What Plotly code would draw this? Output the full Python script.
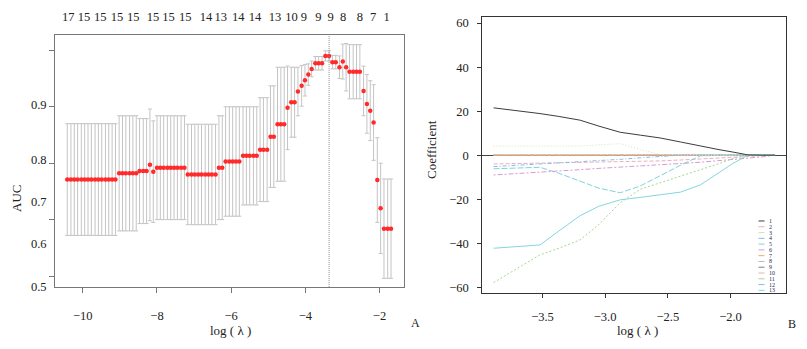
import plotly.graph_objects as go

W, H = 807, 349

# ---------------- Panel A: cross-validated AUC ----------------
log_lambda = [
    -10.42, -10.32, -10.23, -10.14, -10.04, -9.95, -9.86, -9.77, -9.67, -9.58,
    -9.49, -9.39, -9.30, -9.21, -9.12, -9.02, -8.93, -8.84, -8.74, -8.65,
    -8.56, -8.47, -8.37, -8.28, -8.19, -8.10, -8.00, -7.91, -7.82, -7.72,
    -7.63, -7.54, -7.45, -7.35, -7.26, -7.17, -7.07, -6.98, -6.89, -6.80,
    -6.70, -6.61, -6.52, -6.42, -6.33, -6.24, -6.15, -6.05, -5.96, -5.87,
    -5.78, -5.68, -5.59, -5.50, -5.40, -5.31, -5.22, -5.13, -5.03, -4.94,
    -4.85, -4.75, -4.66, -4.57, -4.48, -4.38, -4.29, -4.20, -4.10, -4.01,
    -3.92, -3.83, -3.73, -3.64, -3.55, -3.46, -3.36, -3.27, -3.18, -3.08,
    -2.99, -2.90, -2.81, -2.71, -2.62, -2.53, -2.43, -2.34, -2.25, -2.16,
    -2.06, -1.97, -1.88, -1.78, -1.69,
]
auc_mean = [
    0.671, 0.671, 0.671, 0.671, 0.671, 0.671, 0.671, 0.671, 0.671, 0.671,
    0.671, 0.671, 0.671, 0.671, 0.671, 0.682, 0.682, 0.682, 0.682, 0.682,
    0.682, 0.686, 0.686, 0.686, 0.697, 0.685, 0.692, 0.692, 0.692, 0.692,
    0.692, 0.692, 0.692, 0.692, 0.692, 0.680, 0.680, 0.680, 0.680, 0.680,
    0.680, 0.680, 0.680, 0.680, 0.692, 0.692, 0.703, 0.703, 0.703, 0.703,
    0.703, 0.713, 0.713, 0.713, 0.713, 0.713, 0.724, 0.724, 0.724, 0.747,
    0.747, 0.769, 0.769, 0.769, 0.798, 0.808, 0.808, 0.827, 0.837, 0.847,
    0.857, 0.867, 0.877, 0.877, 0.877, 0.890, 0.890, 0.879, 0.879, 0.870,
    0.880, 0.870, 0.862, 0.862, 0.862, 0.862, 0.828, 0.805, 0.793, 0.772,
    0.670, 0.620, 0.584, 0.584, 0.584,
]
auc_se = [
    0.099, 0.099, 0.099, 0.099, 0.099, 0.099, 0.099, 0.099, 0.099, 0.099,
    0.099, 0.099, 0.099, 0.099, 0.099, 0.102, 0.102, 0.102, 0.102, 0.102,
    0.102, 0.093, 0.093, 0.093, 0.099, 0.090, 0.092, 0.092, 0.092, 0.092,
    0.092, 0.092, 0.092, 0.092, 0.092, 0.089, 0.089, 0.089, 0.089, 0.089,
    0.089, 0.089, 0.089, 0.089, 0.092, 0.092, 0.097, 0.097, 0.097, 0.097,
    0.097, 0.087, 0.087, 0.087, 0.087, 0.087, 0.092, 0.092, 0.092, 0.090,
    0.090, 0.101, 0.101, 0.101, 0.074, 0.062, 0.062, 0.043, 0.036, 0.028,
    0.019, 0.014, 0.012, 0.012, 0.012, 0.009, 0.009, 0.012, 0.012, 0.020,
    0.031, 0.042, 0.048, 0.048, 0.048, 0.048, 0.044, 0.052, 0.053, 0.067,
    0.075, 0.080, 0.088, 0.088, 0.088,
]
best_log_lambda = -3.36

# number of non-zero coefficients (top axis)
top_tick_pos = [-10.39, -9.97, -9.53, -9.08, -8.64, -8.11, -7.69, -7.24, -6.68, -6.28,
                -5.81, -5.36, -4.82, -4.37, -4.04, -3.65, -3.32, -2.98, -2.53, -2.17, -1.81]
top_tick_text = ["17", "15", "15", "15", "15", "15", "15", "15", "14", "13",
                 "14", "14", "13", "10", "9", "9", "9", "8", "8", "7", "1"]

left_x_ticks = [-10, -8, -6, -4, -2]
left_y_ticks = [0.5, 0.6, 0.7, 0.8, 0.9]
left_y_labels = ["0.9", "0.8", "0.7", "0.6", "0.5"]
left_y_label_pos = [0.803, 0.707, 0.631, 0.557, 0.481]

# ---------------- Panel B: coefficient paths ----------------
path_log_lambda = [-3.89, -3.70, -3.52, -3.37, -3.20, -3.05, -2.88, -2.72,
                   -2.56, -2.40, -2.24, -2.10, -1.98, -1.86, -1.75, -1.645]
coef_01 = [21.5, 20.3, 18.9, 17.6, 15.9, 13.2, 10.4, 9.1, 7.8, 6.0, 4.0, 2.6, 1.4, 0.1, 0.0, 0.0]
coef_02 = [-4.0, -3.8, -3.7, -3.6, -3.4, -3.2, -3.1, -2.9, -2.6, -2.2, -1.8, -1.4, -1.0, -0.6, -0.2, 0.0]
coef_03 = [4.1, 4.1, 4.0, 4.0, 4.1, 4.7, 5.2, 2.6, 0.3, 0.0, 0.0, 0.0, 0.0, 0.0, 0.0, 0.0]
coef_04 = [-5.2, -4.6, -4.0, -3.5, -3.0, -2.6, -1.9, -1.2, -0.6, 0.0, 0.0, 0.0, 0.0, 0.0, 0.0, 0.0]
coef_05 = [-6.2, -5.8, -5.5, -8.2, -12.0, -15.0, -17.1, -14.0, -9.3, -4.6, -0.3, 0.0, 0.0, 0.0, 0.0, 0.0]
coef_06 = [-9.0, -8.4, -7.8, -7.2, -6.6, -6.0, -5.5, -5.0, -4.4, -3.8, -3.2, -2.6, -2.0, -1.5, -0.8, 0.0]
coef_07 = [0.0] * 16
coef_08 = [0.0] * 16
coef_09 = [0.0] * 16
coef_10 = [0.0] * 16
coef_11 = [-57.9, -51.5, -45.3, -42.3, -38.5, -31.5, -21.6, -15.5, -12.6, -9.5, -6.7, -4.0, -1.5, 0.0, 0.0, 0.0]
coef_12 = [0.0] * 16
coef_13 = [-42.3, -41.6, -40.8, -34.5, -27.5, -23.2, -20.3, -19.2, -18.0, -16.8, -13.5, -8.2, -3.7, 0.0, 0.0, 0.0]
coef_names = ["1", "2", "3", "4", "5", "6", "7", "8", "9", "10", "11", "12", "13"]
coef_series = [coef_01, coef_02, coef_03, coef_04, coef_05, coef_06, coef_07,
               coef_08, coef_09, coef_10, coef_11, coef_12, coef_13]

right_x_ticks = [-3.5, -3.0, -2.5, -2.0]
right_y_ticks = [-60, -40, -20, 0, 20, 40, 60]

# ---------------- styles ----------------
coef_colors = ["#3c3c3c", "#e8b0bd", "#d6e2b6", "#8cb6e8", "#7ed2da", "#d89ad4", "#f0a860",
               "#b8b8b8", "#808080", "#e8b0bd", "#a6d692", "#8cb6e8", "#84d6de"]
coef_dash = ["solid", "4px,2px", "1px,2px", "4px,2px,1px,2px", "6px,2px", "2px,2px,5px,2px",
             "solid", "4px,2px", "1px,2px", "4px,2px,1px,2px", "2px,2px", "2px,2px,5px,2px", "solid"]
draw_order = [7, 8, 9, 11, 6, 1, 3, 4, 5, 2, 10, 12, 0]

FONT = "Liberation Serif"
TXT = "#222222"


def px_x(px):
    return px / W


def px_y(py):
    return 1 - py / H


fig = go.Figure()

# error bars + points
fig.add_trace(go.Scatter(
    x=log_lambda, y=auc_mean, mode="markers",
    marker=dict(size=4.5, color="#ff2b2b"),
    error_y=dict(type="data", array=auc_se, visible=True, color="#c4c4c4",
                 thickness=1, width=2),
    xaxis="x", yaxis="y", showlegend=False, hoverinfo="skip",
))
# helper traces so the overlay axes exist
fig.add_trace(go.Scatter(x=top_tick_pos, y=[None] * len(top_tick_pos), mode="markers",
                         xaxis="x3", yaxis="y", showlegend=False, hoverinfo="skip"))
fig.add_trace(go.Scatter(x=[None] * len(left_y_label_pos), y=left_y_label_pos, mode="markers",
                         xaxis="x", yaxis="y3", showlegend=False, hoverinfo="skip"))

for k in draw_order:
    fig.add_trace(go.Scatter(
        x=path_log_lambda, y=coef_series[k], mode="lines",
        line=dict(color=coef_colors[k], width=1, dash=coef_dash[k]),
        xaxis="x2", yaxis="y2", showlegend=False, hoverinfo="skip", name=coef_names[k],
    ))

left_dom_x = [px_x(55), px_x(404)]
left_dom_y = [px_y(293), px_y(36)]
right_dom_x = [px_x(482.3), px_x(785.7)]
right_dom_y = [px_y(298.7), px_y(17.3)]
tickfont = dict(family=FONT, size=12.5, color=TXT)

fig.update_layout(
    width=W, height=H,
    margin=dict(l=0, r=0, t=0, b=0),
    paper_bgcolor="white", plot_bgcolor="white",
    font=dict(family=FONT, color=TXT),
    xaxis=dict(domain=left_dom_x, range=[-10.75, -1.34], anchor="y",
               tickvals=left_x_ticks, ticks="outside", ticklen=5, tickcolor="#777",
               showline=True, mirror=True, linecolor="#777", linewidth=1,
               showgrid=False, zeroline=False, tickfont=tickfont, ticklabelstandoff=12),
    xaxis3=dict(overlaying="x", side="top", anchor="y", range=[-10.75, -1.34],
                tickvals=top_tick_pos, ticktext=top_tick_text, tickangle=0,
                ticks="outside", ticklen=8, tickcolor="rgba(0,0,0,0)",
                showline=False, showgrid=False, zeroline=False, tickfont=tickfont),
    yaxis=dict(domain=left_dom_y, range=[0.4804, 0.9266], anchor="x",
               tickvals=left_y_ticks, showticklabels=False,
               ticks="outside", ticklen=5, tickcolor="#777",
               showline=True, mirror=True, linecolor="#777", linewidth=1,
               showgrid=False, zeroline=False),
    yaxis3=dict(overlaying="y", side="left", anchor="x", range=[0.4804, 0.9266],
                tickvals=left_y_label_pos, ticktext=left_y_labels,
                ticks="outside", ticklen=5, tickcolor="rgba(0,0,0,0)",
                showline=False, showgrid=False, zeroline=False, tickfont=tickfont),
    xaxis2=dict(domain=right_dom_x, range=[-3.98, -1.56], anchor="y2",
                tickvals=right_x_ticks, tickformat=".1f", tickangle=0,
                ticks="outside", ticklen=4, tickcolor="#333",
                showline=True, mirror=True, linecolor="#333", linewidth=1,
                showgrid=False, zeroline=False, tickfont=tickfont, ticklabelstandoff=8),
    yaxis2=dict(domain=right_dom_y, range=[-62.5, 62.8], anchor="x2",
                tickvals=right_y_ticks, ticks="outside", ticklen=4, tickcolor="#333",
                showline=True, mirror=True, linecolor="#333", linewidth=1,
                showgrid=False, zeroline=True, zerolinecolor="#444", zerolinewidth=1,
                tickfont=tickfont, ticklabelstandoff=6),
)

# lambda.min dotted line
fig.add_shape(type="line", xref="x", yref="y domain", x0=best_log_lambda, x1=best_log_lambda,
              y0=0, y1=1, line=dict(color="#8a8a8a", width=1, dash="1px,1px"))

# axis titles and panel letters
ann = [
    dict(text="AUC", x=px_x(17), y=px_y(203), textangle=-90, size=13),
    dict(text="log ( λ )", x=px_x(231), y=px_y(337), textangle=0, size=13),
    dict(text="A", x=px_x(415), y=px_y(330), textangle=0, size=12),
    dict(text="Coefficient", x=px_x(432), y=px_y(152), textangle=-90, size=13),
    dict(text="log ( λ )", x=px_x(637), y=px_y(337.5), textangle=0, size=13),
    dict(text="B", x=px_x(792), y=px_y(330.5), textangle=0, size=12),
]
for a in ann:
    fig.add_annotation(text=a["text"], x=a["x"], y=a["y"], xref="paper", yref="paper",
                       showarrow=False, textangle=a["textangle"],
                       font=dict(family=FONT, size=a["size"], color=TXT),
                       xanchor="center", yanchor="middle")

# compact legend for panel B
for k, name in enumerate(coef_names):
    yy = 225.5 + k * 5.9
    fig.add_shape(type="line", xref="paper", yref="paper",
                  x0=px_x(758.5), x1=px_x(764.5), y0=px_y(yy), y1=px_y(yy),
                  line=dict(color=coef_colors[k], width=1, dash="solid"))
    fig.add_annotation(text=name, x=px_x(766.5), y=px_y(yy), xref="paper", yref="paper",
                       showarrow=False, xanchor="left", yanchor="middle",
                       font=dict(family=FONT, size=6, color="#1a2a5a"))

fig.write_html("out.html", config={"displayModeBar": False},
               post_script="document.body.style.margin='0';document.body.style.padding='0';")
